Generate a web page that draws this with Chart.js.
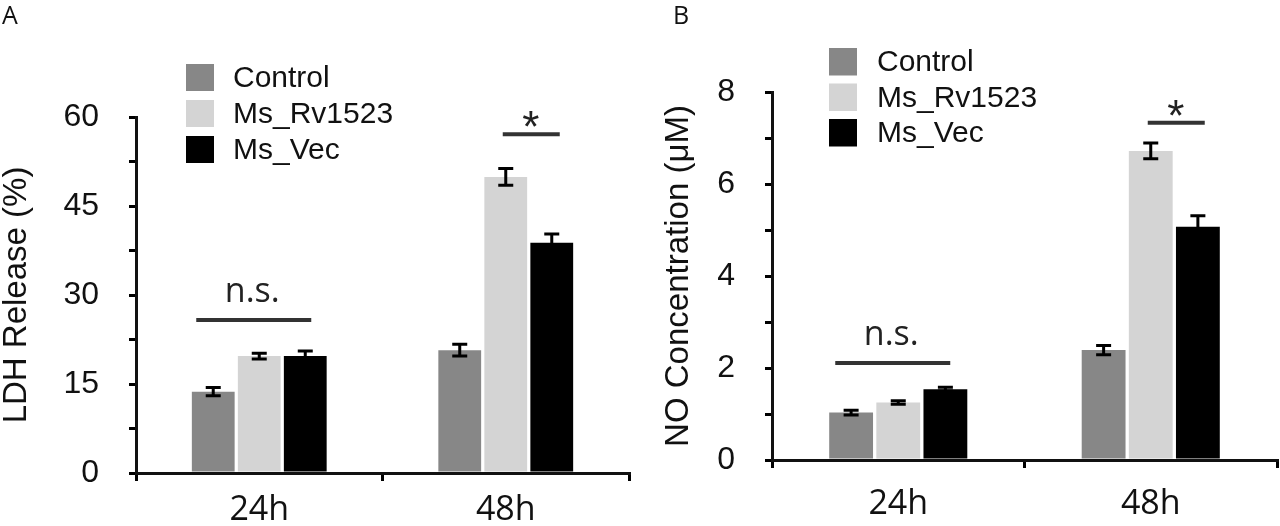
<!DOCTYPE html>
<html>
<head>
<meta charset="utf-8">
<script src="https://cdn.jsdelivr.net/npm/chart.js@4.4.1/dist/chart.umd.min.js"></script>
<style>
html,body{margin:0;padding:0;background:#fff;}
#wrap{position:relative;width:1280px;height:526px;overflow:hidden;background:#fff;}
.panel{position:absolute;top:0;width:640px;height:526px;}
</style>
</head>
<body>
<div id="wrap">
  <div class="panel" style="left:0px"><canvas id="cA" width="640" height="526"></canvas></div>
  <div class="panel" style="left:640px"><canvas id="cB" width="640" height="526"></canvas></div>
</div>
<script>
// ---------- data ----------
const categories = ['24h', '48h'];
const seriesNames = ['Control', 'Ms_Rv1523', 'Ms_Vec'];

// Panel A: LDH release (%)
const ldhControl = [13.7, 20.7];
const ldhRv1523  = [19.7, 49.9];
const ldhVec     = [19.7, 38.8];
const ldhControlErr = [0.7, 1.0];
const ldhRv1523Err  = [0.5, 1.4];
const ldhVecErr     = [0.85, 1.5];
const ldhTicks = [0, 15, 30, 45, 60];
const ldhSigText  = ['n.s.', '*'];
const ldhSigLevel = [25.8, 57.1];

// Panel B: NO concentration (uM)
const noControl = [1.03, 2.39];
const noRv1523  = [1.25, 6.72];
const noVec     = [1.54, 5.07];
const noControlErr = [0.05, 0.10];
const noRv1523Err  = [0.04, 0.17];
const noVecErr     = [0.04, 0.24];
const noTicks = [0, 2, 4, 6, 8];
const noSigText  = ['n.s.', '*'];
const noSigLevel = [2.11, 7.33];

const colors = ['#878787', '#d4d4d4', '#000000'];
const INK = '#111111';

// ---------- plugins ----------
const errorBarPlugin = {
  id: 'errorBars',
  afterDatasetsDraw(chart, args, opts) {
    const ctx = chart.ctx, y = chart.scales.y;
    ctx.save();
    ctx.strokeStyle = opts.color; ctx.lineWidth = opts.lineWidth; ctx.lineCap = 'butt';
    chart.data.datasets.forEach((ds, i) => {
      const meta = chart.getDatasetMeta(i);
      meta.data.forEach((bar, j) => {
        const v = ds.data[j], e = opts.errors[i][j];
        const yt = y.getPixelForValue(v + e), yb = y.getPixelForValue(v - e);
        const x = bar.x, hw = opts.capWidth / 2;
        ctx.beginPath();
        ctx.moveTo(x, yt); ctx.lineTo(x, yb);
        ctx.moveTo(x - hw, yt); ctx.lineTo(x + hw, yt);
        ctx.moveTo(x - hw, yb); ctx.lineTo(x + hw, yb);
        ctx.stroke();
      });
    });
    ctx.restore();
  }
};

const sigPlugin = {
  id: 'sigMarks',
  afterDatasetsDraw(chart, args, opts) {
    const ctx = chart.ctx, xs = chart.scales.x, ys = chart.scales.y;
    ctx.save();
    opts.texts.forEach((t, i) => {
      const st = opts.styles[i];
      const cx = xs.getPixelForValue(i);
      const y = ys.getPixelForValue(opts.levels[i]);
      ctx.strokeStyle = '#333'; ctx.lineWidth = 4;
      ctx.beginPath(); ctx.moveTo(cx + st.x0, y); ctx.lineTo(cx + st.x1, y); ctx.stroke();
      ctx.fillStyle = '#222';
      ctx.font = st.font;
      ctx.textAlign = 'center'; ctx.textBaseline = 'alphabetic';
      ctx.fillText(t, cx + st.dx, y + st.dy);
    });
    ctx.restore();
  }
};

const boxLegendPlugin = {
  id: 'boxLegend',
  afterDraw(chart, args, opts) {
    const ctx = chart.ctx, area = chart.chartArea;
    ctx.save();
    ctx.font = opts.font; ctx.textAlign = 'left'; ctx.textBaseline = 'middle';
    chart.data.datasets.forEach((ds, i) => {
      const bx = area.left + opts.dx, by = opts.top + i * opts.step;
      ctx.fillStyle = ds.backgroundColor;
      ctx.fillRect(bx, by, opts.boxW, opts.boxH);
      ctx.fillStyle = INK;
      ctx.fillText(ds.label, bx + opts.textGap, by + opts.boxH / 2 + 1);
    });
    ctx.restore();
  }
};

const panelLabelPlugin = {
  id: 'panelLabel',
  afterDraw(chart, args, opts) {
    const ctx = chart.ctx;
    ctx.save();
    ctx.font = '25px "Open Sans"'; ctx.fillStyle = INK;
    ctx.textAlign = 'left'; ctx.textBaseline = 'alphabetic';
    ctx.fillText(opts.text, opts.x, opts.y);
    ctx.restore();
  }
};

Chart.register(errorBarPlugin, sigPlugin, boxLegendPlugin, panelLabelPlugin);

function makeChart(id, cfg) {
  const datasets = seriesNames.map((n, i) => ({
    label: n, data: cfg.values[i], backgroundColor: colors[i], borderWidth: 0,
    categoryPercentage: 0.56, barPercentage: 0.93
  }));
  return new Chart(document.getElementById(id), {
    type: 'bar',
    data: { labels: categories, datasets },
    options: {
      responsive: false, animation: false,
      layout: { padding: cfg.padding },
      plugins: {
        legend: { display: false }, tooltip: { enabled: false },
        errorBars: { errors: cfg.errors, capWidth: 15, lineWidth: 3, color: '#000' },
        sigMarks: {
          texts: cfg.sigText, levels: cfg.sigLevel,
          styles: [
            { x0: -63, x1: 52, dx: -7, dy: -18, font: '34px "Open Sans"' },
            { x0: -3, x1: 54, dx: 25, dy: 8, font: '44px "Liberation Sans"' }
          ]
        },
        boxLegend: cfg.legend,
        panelLabel: cfg.panel
      },
      scales: {
        x: {
          grid: { display: true, drawOnChartArea: false, tickLength: 8, color: '#000', lineWidth: 3 },
          border: { display: true, color: INK, width: 3 },
          ticks: { font: { family: 'Open Sans', size: 34, lineHeight: 1 }, color: INK, padding: cfg.xPad },
          afterFit: s => { s.height = cfg.xHeight; }
        },
        y: {
          min: 0, max: cfg.max,
          ticks: {
            stepSize: cfg.step, autoSkip: false,
            callback: v => (cfg.tickLabels.includes(v) ? String(v) : ''),
            font: { family: 'Liberation Sans', size: 32, lineHeight: 1 }, color: INK, padding: 30
          },
          grid: { drawOnChartArea: false, tickLength: 7, color: '#000', lineWidth: 3 },
          border: { display: true, color: INK, width: 3 },
          title: { display: true, text: cfg.title, color: INK, padding: 0,
                   font: { family: 'Liberation Sans', size: 33, lineHeight: 1 } },
          afterFit: s => { s.width = cfg.yWidth; }
        }
      }
    }
  });
}

makeChart('cA', {
  values: [ldhControl, ldhRv1523, ldhVec],
  errors: [ldhControlErr, ldhRv1523Err, ldhVecErr],
  sigText: ldhSigText, sigLevel: ldhSigLevel,
  max: 60, step: 7.5, tickLabels: ldhTicks, title: 'LDH Release (%)',
  padding: { left: 0, right: 11, top: 117, bottom: 0 },
  yWidth: 136, xHeight: 53, xPad: 12,
  legend: { dx: 50, top: 64, step: 36, boxW: 28, boxH: 27, textGap: 47, font: '30px "Liberation Sans"' },
  panel: { text: 'A', x: 2, y: 24 }
});

makeChart('cB', {
  values: [noControl, noRv1523, noVec],
  errors: [noControlErr, noRv1523Err, noVecErr],
  sigText: noSigText, sigLevel: noSigLevel,
  max: 8, step: 1, tickLabels: noTicks, title: 'NO Concentration (\u03bcM)',
  padding: { left: 22, right: 3, top: 92, bottom: 0 },
  yWidth: 110, xHeight: 66, xPad: 19,
  legend: { dx: 57, top: 48, step: 35.5, boxW: 28, boxH: 27.5, textGap: 48, font: '30px "Liberation Sans"' },
  panel: { text: 'B', x: 33, y: 24 }
});
</script>
</body>
</html>
